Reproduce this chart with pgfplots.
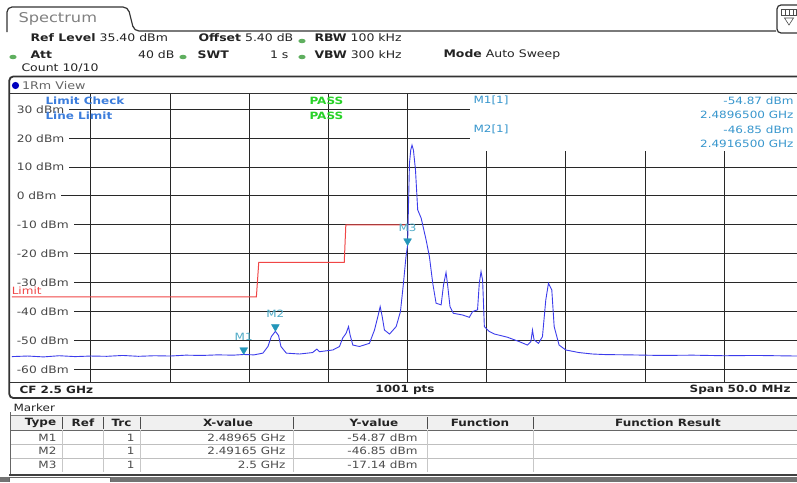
\documentclass[border=0pt]{standalone}
\usepackage{pgfplots}
\usepackage{pgfplotstable}
\pgfplotsset{compat=1.18}
\usepackage{fontspec}
\setmainfont{DejaVu Sans}[FakeStretch=1.2]

\definecolor{trace}{RGB}{60,60,235}
\definecolor{limred}{RGB}{240,70,70}
\definecolor{lcblue}{RGB}{60,125,220}
\definecolor{passgreen}{RGB}{40,210,40}
\definecolor{mkblue}{RGB}{55,150,205}
\definecolor{mkteal}{RGB}{35,150,185}
\definecolor{dotgreen}{RGB}{95,175,95}
\definecolor{gridc}{RGB}{40,40,40}
\definecolor{txt}{RGB}{35,35,35}

% spectrum trace, frequency in MHz, level in dBm
\pgfplotstableread{
f p
2475.0 -55.6
2476.0 -55.4
2477.0 -55.7
2478.0 -55.3
2479.0 -55.6
2480.0 -55.4
2481.0 -55.5
2482.0 -55.2
2483.0 -55.5
2484.0 -55.3
2485.0 -55.4
2486.0 -55.1
2487.0 -55.2
2488.0 -55.0
2489.0 -55.1
2489.65 -54.87
2490.3 -55.0
2490.86 -54.4
2491.18 -52.1
2491.39 -48.7
2491.65 -46.85
2491.85 -48.3
2492.0 -52.1
2492.34 -54.4
2493.18 -54.7
2494.0 -54.2
2494.27 -53.0
2494.44 -53.9
2495.28 -53.3
2495.7 -52.1
2495.9 -49.2
2496.12 -47.5
2496.27 -45.2
2496.37 -48.1
2496.54 -51.6
2496.96 -52.1
2497.59 -51.0
2497.91 -46.4
2498.12 -41.8
2498.27 -38.3
2498.4 -41.8
2498.54 -46.4
2498.86 -47.8
2499.28 -45.2
2499.55 -40.0
2499.74 -30.2
2499.9 -21.0
2500.0 -17.14
2500.12 11.3
2500.2 15.9
2500.28 17.6
2500.37 15.9
2500.5 9.0
2500.64 -4.8
2500.86 -7.7
2501.17 -15.2
2501.38 -21.0
2501.59 -30.2
2501.8 -37.1
2502.12 -37.7
2502.27 -30.8
2502.43 -26.5
2502.53 -30.8
2502.68 -38.3
2502.89 -40.6
2503.48 -41.2
2503.9 -42.0
2504.11 -40.0
2504.42 -39.4
2504.53 -30.2
2504.64 -26.2
2504.74 -29.1
2504.85 -45.2
2505.16 -46.9
2505.5 -47.8
2506.31 -48.9
2507.05 -50.4
2507.57 -51.6
2507.79 -50.4
2507.89 -46.4
2507.99 -49.8
2508.27 -51.0
2508.52 -48.7
2508.73 -36.0
2508.9 -30.2
2509.11 -32.5
2509.26 -45.2
2509.57 -51.6
2509.99 -53.3
2510.83 -54.2
2511.67 -54.7
2512.5 -54.9
2514.0 -55.0
2516.0 -55.2
2518.0 -55.1
2520.0 -55.3
2522.0 -55.2
2524.6 -55.4
}\spectrum

\pgfplotstableread{
f p label
2489.65 -54.87 M1
2491.65 -46.85 M2
2500.0 -17.14 M3
}\markers

\begin{document}
\begin{tikzpicture}[x=1pt, y=-1pt, font=\fontsize{10}{12}\selectfont, text=txt]
\useasboundingbox (0,0) rectangle (797,482);
\fill[white] (0,0) rectangle (797,482);

% header tab and icon
\draw[line width=1.2pt, black!80, rounded corners=5pt]
  (7,32) -- (7,7) -- (128,7) -- (134,31) -- (776,31);
\node[anchor=west, text=black!50, font=\fontsize{13.5}{15}\selectfont] at (15,19) {Spectrum};
\draw[line width=1.2pt, black!80, rounded corners=4pt] (777,5) rectangle (801,33);
\draw[black!70, line width=0.6pt] (781,9) rectangle (796,15);
\draw[black!70, line width=0.6pt] (785,9) -- (785,15) (789,9) -- (789,15) (793,9) -- (793,15);
\draw[black!70, line width=0.6pt] (784.5,18) -- (793.5,18) -- (789,25) -- cycle;

% settings
\begin{scope}[font=\fontsize{10.4}{12}\selectfont]
\node[anchor=west] at (27,38) {\textbf{Ref Level} 35.40 dBm};
\node[anchor=west] at (195,38) {\textbf{Offset} 5.40 dB};
\node[anchor=west] at (311,38) {\textbf{RBW} 100 kHz};
\node[anchor=west] at (27,55) {\textbf{Att}};
\node[anchor=east] at (178,55) {40 dB};
\node[anchor=west] at (194,55) {\textbf{SWT}};
\node[anchor=east] at (292,55) {1 s};
\node[anchor=west] at (311,55) {\textbf{VBW} 300 kHz};
\node[anchor=west] at (440,55) {\textbf{Mode} Auto Sweep};
\node[anchor=west] at (18,68.5) {Count 10/10};
\end{scope}
\foreach \dx/\dy in {302/41, 13/57, 183/57, 302/57}
  \fill[dotgreen] (\dx,\dy) ellipse (3.6pt and 2.2pt);

% view panel
\draw[line width=1.8pt, black!80, rounded corners=4pt]
  (800,76.5) -- (9.3,76.5) -- (9.3,398) -- (800,398);
\fill[blue!75!black] (15.5,85.5) circle (3.6pt);
\node[anchor=west, text=black!60, font=\fontsize{10.6}{12}\selectfont] at (18.5,85.5) {1Rm View};

\begin{axis}[
  at={(11.8pt,-382.6pt)}, anchor=south west,
  scale only axis, width=785.2pt, height=288.9pt,
  xmin=2475, xmax=2524.6, ymin=-64.6, ymax=35.4,
  axis line style={draw=none},
  xtick={2480,2485,...,2520}, xticklabels={},
  ytick={-60,-50,...,30},
  yticklabels={-60 dBm,-50 dBm,-40 dBm,-30 dBm,-20 dBm,-10 dBm,0 dBm,10 dBm,20 dBm,30 dBm},
  yticklabel style={anchor=west, xshift=0pt, fill=white, inner xsep=4.8pt, inner ysep=1.2pt,
    text=black!72, font=\fontsize{10.2}{12}\selectfont},
  major tick length=0pt,
  grid=major, major grid style={gridc, line width=1pt},
]
\addplot[limred, line width=1pt] coordinates {
  (2475,-34.9) (2490.45,-34.9) (2490.6,-23) (2496.0,-23) (2496.1,-10) (2500,-10)};
\addplot[trace, line width=0.9pt] table[x=f, y=p] {\spectrum};
\addplot[only marks, mark=triangle*, mark size=4.5pt,
  mark options={yshift=4.5pt, rotate=180, fill=mkteal, draw=mkteal},
  nodes near coords, point meta=explicit symbolic,
  nodes near coords style={anchor=south, yshift=8.5pt, text=mkteal!80,
    font=\fontsize{10}{12}\selectfont, inner sep=0.5pt}]
  table[x=f, y=p, meta=label] {\markers};
\end{axis}

% plot frame lines
\draw[black!80, line width=1pt] (9.3,93.7) -- (797,93.7);
\draw[black!80, line width=1pt] (9.3,382.6) -- (797,382.6);

% marker info box and limit check
\fill[white] (470,94.3) rectangle (797,150.5);
\begin{scope}[text=mkblue, font=\fontsize{10}{12}\selectfont]
\node[anchor=west] at (470,100.5) {M1[1]};
\node[anchor=east] at (797,100.5) {-54.87 dBm};
\node[anchor=east] at (797,114.5) {2.4896500 GHz};
\node[anchor=west] at (470,129.5) {M2[1]};
\node[anchor=east] at (797,129.5) {-46.85 dBm};
\node[anchor=east] at (797,143.5) {2.4916500 GHz};
\end{scope}
\node[anchor=west, text=lcblue] at (42,100.5) {\textbf{Limit Check}};
\node[anchor=west, text=lcblue] at (42,115.5) {\textbf{Line Limit}};
\node[anchor=west, text=passgreen] at (306,100.5) {\textbf{PASS}};
\node[anchor=west, text=passgreen] at (306,115.5) {\textbf{PASS}};
\node[anchor=west, text=limred, fill=white, inner sep=0.6pt] at (11,290.5) {Limit};

% footer
\node[anchor=west] at (16,390) {\textbf{CF 2.5 GHz}};
\node at (405,390) {\textbf{1001 pts}};
\node[anchor=east] at (794,390) {\textbf{Span 50.0 MHz}};

% marker table
\node[anchor=west] at (10,408) {Marker};
\fill[black!6] (11,415.5) rectangle (797,430);
\draw[black!25, line width=0.6pt] (11,444) -- (797,444) (11,458) -- (797,458);
\draw[black!60, line width=0.8pt] (11,430) -- (797,430);
\draw[black!50, line width=0.8pt] (11,415.5) -- (797,415.5);
\foreach \cx in {62,103,140,293,427,533} {
  \draw[black!70, line width=0.8pt] (\cx,417) -- (\cx,429);
  \draw[black!22, line width=0.6pt] (\cx,430) -- (\cx,472);
}
\draw[black!60, line width=1.2pt] (10.5,412) -- (10.5,474);
\node[font=\bfseries] at (40.5,423) {Type};
\node[font=\bfseries] at (83,423) {Ref};
\node[font=\bfseries] at (121.5,423) {Trc};
\node[font=\bfseries] at (228,423) {X-value};
\node[font=\bfseries] at (374,423) {Y-value};
\node[font=\bfseries] at (480,423) {Function};
\node[font=\bfseries] at (668,423) {Function Result};
\foreach \ry/\mk/\xv/\yv in {437.5/M1/2.48965 GHz/-54.87 dBm, 451/M2/2.49165 GHz/-46.85 dBm, 465/M3/2.5 GHz/-17.14 dBm} {
  \node[anchor=east, text=black!70] at (60,\ry) {\mk};
  \node[anchor=east, text=black!70] at (138,\ry) {1};
  \node[anchor=east, text=black!70] at (289,\ry) {\xv};
  \node[anchor=east, text=black!70] at (421,\ry) {\yv};
}
\draw[black!75, line width=1.2pt] (9,475) -- (797,475);
\fill[black!55] (0,476.5) rectangle (797,482);
\fill[white] (9,476.5) rectangle (110,482);
\draw[black!60] (9,482) -- (9,477) -- (110,477) -- (110,482);
\end{tikzpicture}
\end{document}
